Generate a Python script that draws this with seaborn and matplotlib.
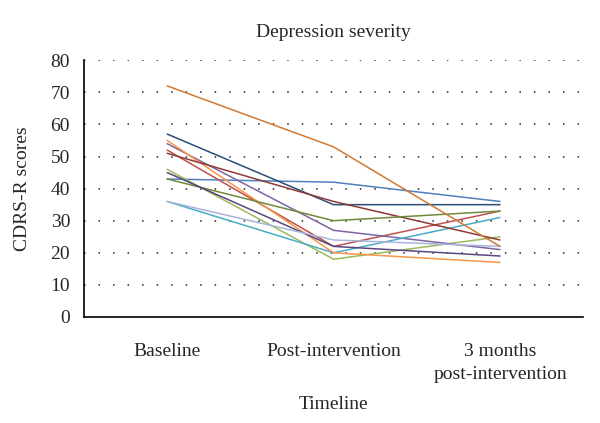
import pandas as pd
import seaborn as sns
import matplotlib.pyplot as plt

# timepoints on the x axis
timepoints = ['Baseline', 'Post-intervention', '3 months\npost-intervention']

# CDRS-R score for each participant at baseline, post, 3 months
subjects = ['P1', 'P2', 'P3', 'P4', 'P5', 'P6', 'P7', 'P8', 'P9', 'P10', 'P11', 'P12']
baseline = [43, 52, 46, 54, 36, 55, 57, 51, 43, 45, 36, 72]
post = [42, 22, 18, 27, 20, 20, 35, 36, 30, 22, 24, 53]
followup = [36, 33, 25, 21, 31, 17, 35, 24, 33, 19, 22, 22]

line_colors = ['#4F81BD', '#C0504D', '#9BBB59', '#8064A2', '#4BACC6', '#F79646',
               '#2C4D75', '#8E3A36', '#6F8A3A', '#5B4680', '#A9B4DC', '#CF7A34']

rows = []
for i, s in enumerate(subjects):
    for t, v in enumerate([baseline[i], post[i], followup[i]]):
        rows.append({'subject': s, 'time': t, 'score': v})
df = pd.DataFrame(rows)

sns.set_style('white')
plt.rcParams['font.family'] = ['Liberation Serif', 'DejaVu Serif']

fig = plt.figure(figsize=(6, 4.23), dpi=100)
ax = fig.add_axes([0.14, 0.2506, 0.832, 0.607])

sns.lineplot(data=df, x='time', y='score', hue='subject', palette=line_colors,
             estimator=None, errorbar=None, linewidth=1.1, legend=False, ax=ax)

# dotted gridlines
for yv in range(10, 81, 10):
    ax.axhline(yv, color='#222222', linewidth=1.1, linestyle=(0, (1, 8.5)), zorder=0)

ax.set_xlim(-0.5, 2.5)
ax.set_ylim(0, 80)
ax.set_yticks(range(0, 81, 10))
ax.set_xticks([0, 1, 2])
ax.set_xticklabels(timepoints, linespacing=1.45)
ax.set_xticks([-0.5, 0.5, 1.5, 2.5], minor=True)
ax.tick_params(axis='x', which='major', length=0, pad=19, labelsize=14)
ax.tick_params(axis='x', which='minor', length=5, width=1, color='black', direction='out')
ax.tick_params(axis='y', length=5, width=1, color='black', direction='out', labelsize=14, pad=5)

for side in ['top', 'right']:
    ax.spines[side].set_visible(False)
for side in ['left', 'bottom']:
    ax.spines[side].set_color('black')
    ax.spines[side].set_linewidth(1.2)

ax.set_title('Depression severity', fontsize=14, pad=17)
ax.set_xlabel('Timeline', fontsize=14, labelpad=9)
ax.set_ylabel('CDRS-R scores', fontsize=14, labelpad=14)

plt.savefig('out.png', dpi=100)
